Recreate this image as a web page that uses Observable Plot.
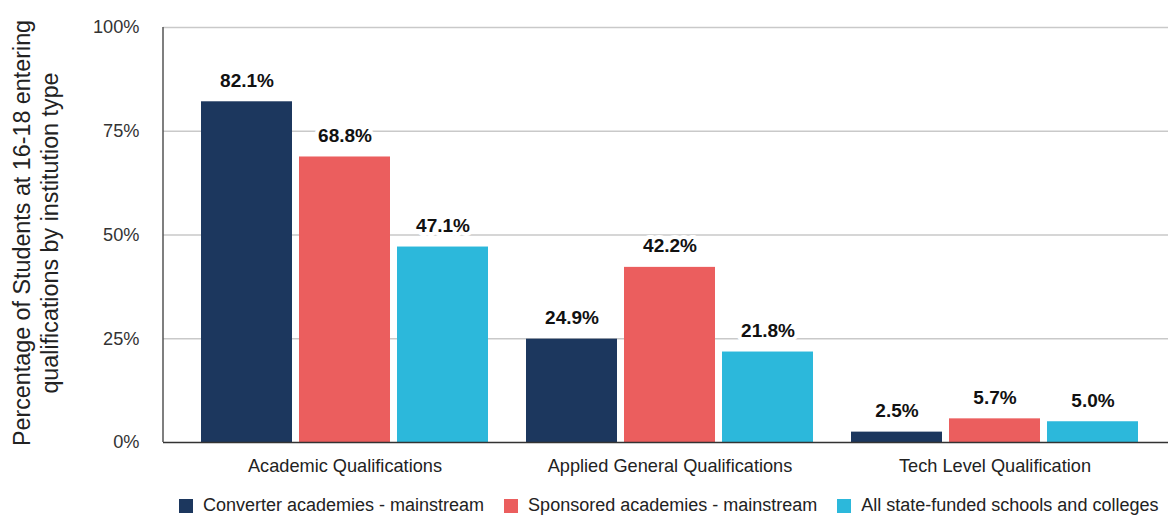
<!DOCTYPE html>
<html>
<head>
<meta charset="utf-8">
<script src="https://cdn.jsdelivr.net/npm/d3@7"></script>
<script src="https://cdn.jsdelivr.net/npm/@observablehq/plot@0.6"></script>
<style>
  html, body { margin: 0; padding: 0; background: #fff; overflow: hidden; }
  #wrap { position: relative; width: 1168px; height: 517px; font-family: "Liberation Sans", Arial, sans-serif; }
  #ytitle { position: absolute; left: 36px; top: 233px; transform: translate(-50%, -50%) rotate(-90deg);
            white-space: nowrap; text-align: center; font-size: 23.3px; line-height: 28px; color: #222; }
  #legend { position: absolute; left: 179px; top: 494px; display: flex; gap: 20px; font-size: 18px; color: #222; white-space: nowrap; }
  .item { display: flex; align-items: flex-start; gap: 10px; line-height: 22px; }
  .sw { width: 14px; height: 14px; margin-top: 5px; }
</style>
</head>
<body>
<div id="wrap">
  <div id="chart"></div>
  <div id="ytitle">Percentage of Students at 16-18 entering<br>qualifications by institution type</div>
  <div id="legend"></div>
</div>
<script>
const categories = ["Academic Qualifications", "Applied General Qualifications", "Tech Level Qualification"];
const seriesNames = ["Converter academies - mainstream", "Sponsored academies - mainstream", "All state-funded schools and colleges"];
const converter = [82.1, 24.9, 2.5];
const sponsored = [68.8, 42.2, 5.7];
const allState = [47.1, 21.8, 5.0];
const colors = ["#1c375e", "#eb5e5e", "#2cb8db"];
const yTicks = [0, 25, 50, 75, 100];

const seriesValues = [converter, sponsored, allState];
const rows = [];
seriesNames.forEach((s, si) => categories.forEach((c, ci) => rows.push({category: c, series: s, si, value: seriesValues[si][ci]})));

const step = 98; // offset of each bar inside the group band
const marks = [
  Plot.gridY(yTicks.filter(d => d > 0), {stroke: "#c9c9c9", strokeOpacity: 1, strokeWidth: 1.5}),
];
seriesNames.forEach((s, si) => {
  const data = rows.filter(d => d.si === si);
  marks.push(Plot.barY(data, {x: "category", y: "value", fill: colors[si],
    insetLeft: si * step, insetRight: (2 - si) * step}));
});
marks.push(Plot.ruleY([0], {stroke: "#333", strokeWidth: 1.5}));
seriesNames.forEach((s, si) => {
  const data = rows.filter(d => d.si === si);
  marks.push(Plot.text(data, {x: "category", y: "value", text: d => d.value.toFixed(1) + "%",
    dx: (si - 1) * step, dy: -21, lineAnchor: "middle", fill: "#111", stroke: "white", strokeWidth: 8,
    fontSize: 19, fontWeight: "bold"}));
});
marks.push(Plot.axisY({ticks: yTicks, tickSize: 0, tickPadding: 24, tickFormat: d => d + "%", fontSize: 18.2, fill: "#333", label: null}));
marks.push(Plot.axisX({tickSize: 0, tickPadding: 17, fontSize: 18.2, fill: "#222", label: null}));

const plot = Plot.plot({
  width: 1168,
  height: 490,
  marginLeft: 163,
  marginRight: 0,
  marginTop: 27,
  marginBottom: 48,
  style: {fontFamily: "Liberation Sans, Arial, sans-serif", background: "white"},
  x: {domain: categories, paddingInner: 0.1183, paddingOuter: 0.1029, align: 0.56, axis: null},
  y: {domain: [0, 100], axis: null},
  marks
});

// left axis line
const svg = d3.select(plot);
svg.append("line")
  .attr("x1", 163).attr("x2", 163).attr("y1", 27).attr("y2", 442)
  .attr("stroke", "#555").attr("stroke-width", 1.5);

document.getElementById("chart").appendChild(plot);

const legend = d3.select("#legend");
seriesNames.forEach((s, si) => {
  const it = legend.append("div").attr("class", "item");
  it.append("div").attr("class", "sw").style("background", colors[si]);
  it.append("span").text(s);
});
</script>
</body>
</html>
